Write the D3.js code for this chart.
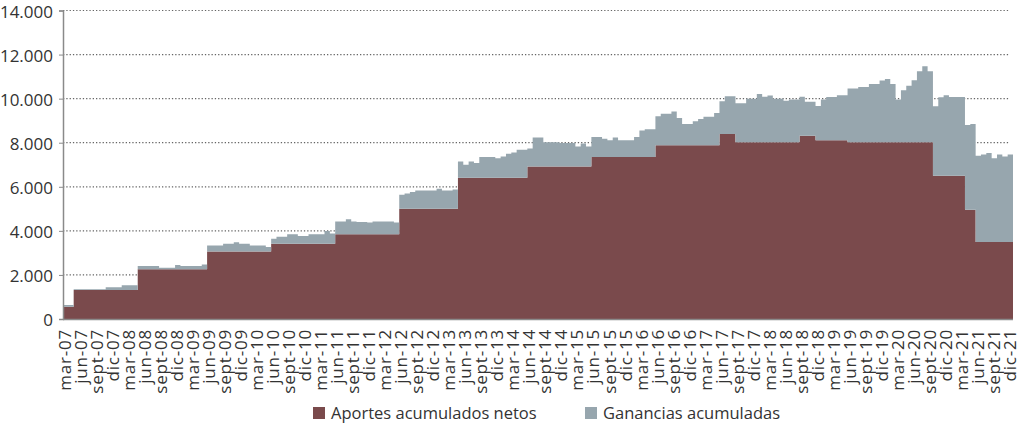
<!DOCTYPE html>
<html><head><meta charset="utf-8">
<script src="https://cdn.jsdelivr.net/npm/d3@7"></script>
<style>body{margin:0;background:#fff}text{font-family:"Open Sans",sans-serif;fill:#333}</style>
</head><body><svg id="c" width="1024" height="430"></svg>
<script>
// Monthly series, first month = mar-07 (index 0) to dic-21 (index 177)
const seriesNames = ["Aportes acumulados netos", "Ganancias acumuladas"];
const aportes = [
  560,560,1320,1320,1320,1320,1320,1320,1320,1320,
  1320,1320,1320,1320,2260,2260,2260,2260,2260,2260,
  2260,2260,2260,2260,2260,2260,2260,3060,3060,3060,
  3060,3060,3060,3060,3060,3060,3060,3060,3060,3420,
  3420,3420,3420,3420,3420,3420,3420,3420,3420,3420,
  3420,3850,3850,3850,3850,3850,3850,3850,3850,3850,
  3850,3850,3850,5000,5000,5000,5000,5000,5000,5000,
  5000,5000,5000,5000,6410,6410,6410,6410,6410,6410,
  6410,6410,6410,6410,6410,6410,6410,6920,6920,6920,
  6920,6920,6920,6920,6920,6920,6920,6920,6920,7350,
  7350,7350,7350,7350,7350,7350,7350,7350,7350,7350,
  7350,7880,7880,7880,7880,7880,7880,7880,7880,7880,
  7880,7880,7880,8390,8390,8390,8020,8020,8020,8020,
  8020,8020,8020,8020,8020,8020,8020,8020,8320,8320,
  8320,8110,8110,8110,8110,8110,8110,8020,8020,8020,
  8020,8020,8020,8020,8020,8020,8020,8020,8020,8020,
  8020,8020,8020,6500,6500,6500,6500,6500,6500,4960,
  4960,3490,3490,3490,3490,3490,3490,3490
];
const ganancias = [
  80,80,30,30,30,30,30,30,120,120,
  120,210,210,210,150,150,150,150,70,70,
  70,190,140,140,140,140,210,270,270,270,
  360,360,420,360,360,270,270,270,210,220,
  310,310,430,430,350,350,430,430,430,570,
  460,570,570,680,570,550,550,530,580,580,
  580,580,530,640,700,760,830,830,830,830,
  910,830,830,880,740,590,740,670,940,940,
  940,880,970,1090,1150,1270,1270,820,1320,1320,
  1100,1100,1100,1070,1070,1070,910,1040,910,910,
  910,830,760,890,760,760,760,910,1200,1260,
  1260,1320,1440,1440,1540,1240,970,970,1090,1200,
  1300,1300,1470,1490,1720,1720,1770,1770,1980,1980,
  2190,2070,2120,1980,1980,1890,1940,1940,1770,1540,
  1540,1560,1850,1970,1970,2040,2040,2440,2440,2510,
  2510,2650,2650,2800,2870,2650,1940,2360,2570,2810,
  3220,3450,3220,3150,3560,3650,3580,3580,3580,3840,
  3890,3920,3970,4040,3810,3970,3890,3970
];
const tickLabels = [
  "mar-07","jun-07","sept-07","dic-07","mar-08","jun-08","sept-08","dic-08",
  "mar-09","jun-09","sept-09","dic-09","mar-10","jun-10","sept-10","dic-10",
  "mar-11","jun-11","sept-11","dic-11","mar-12","jun-12","sept-12","dic-12",
  "mar-13","jun-13","sept-13","dic-13","mar-14","jun-14","sept-14","dic-14",
  "mar-15","jun-15","sept-15","dic-15","mar-16","jun-16","sept-16","dic-16",
  "mar-17","jun-17","sept-17","dic-17","mar-18","jun-18","sept-18","dic-18",
  "mar-19","jun-19","sept-19","dic-19","mar-20","jun-20","sept-20","dic-20",
  "mar-21","jun-21","sept-21","dic-21"
];
const yTicks = [0,2000,4000,6000,8000,10000,12000,14000];
const colors = ["#7a4a4c", "#97a6ae"];

const svg = d3.select("#c");
const n = aportes.length;
const x = d3.scaleLinear().domain([0, n]).range([63, 1013]);
const y = d3.scaleLinear().domain([0, 14000]).range([319, 10.5]);
const loc = d3.formatLocale({decimal: ",", thousands: ".", grouping: [3], currency: ["$", ""]});
const fmt = loc.format(",");

// grid
svg.append("g").selectAll("line").data(yTicks.filter(d => d > 0)).join("line")
  .attr("x1", 63).attr("x2", 1010).attr("y1", d => y(d)).attr("y2", d => y(d))
  .attr("stroke", "#666").attr("stroke-width", 1.2).attr("stroke-dasharray", "1.3,2");

// data rows (extra final row to close the last step)
const rows = d3.range(n + 1).map(i => {
  const k = Math.min(i, n - 1);
  return {i, a: aportes[k], g: ganancias[k]};
});
const stack = d3.stack().keys(["a", "g"])(rows);
const area = d3.area().curve(d3.curveStepAfter)
  .x(d => x(d.data.i)).y0(d => y(d[0])).y1(d => y(d[1]));
svg.append("g").selectAll("path").data(stack).join("path")
  .attr("d", area).attr("fill", (d, i) => colors[i]);

// y axis
const yAxis = d3.axisLeft(y).tickValues(yTicks).tickFormat(fmt).tickSize(4).tickPadding(6);
const gy = svg.append("g").attr("transform", "translate(63,0)").call(yAxis);
gy.select(".domain").attr("stroke", "#8a8a8a").attr("stroke-width", 1.5);
gy.selectAll(".tick line").attr("stroke", "#8a8a8a");
gy.selectAll("text").style("font-size", "17px").attr("fill", "#333").attr("dy", "0.4em")
  .style("font-family", "'Open Sans',sans-serif");

// x baseline
svg.append("line").attr("x1", 63).attr("x2", 1013).attr("y1", 319.5).attr("y2", 319.5)
  .attr("stroke", "#8a8a8a").attr("stroke-width", 1.5);

// x labels
svg.append("g").selectAll("text").data(tickLabels).join("text")
  .attr("transform", (d, i) => `translate(${x(i * 3) + 2},${329}) rotate(-90)`)
  .attr("text-anchor", "end").attr("dy", "0.36em")
  .style("font-size", "17px").style("letter-spacing", "0.8px").text(d => d);

// legend
const lg = svg.append("g");
const lx = [313, 585];
seriesNames.forEach((s, i) => {
  lg.append("rect").attr("x", lx[i]).attr("y", 407).attr("width", 12).attr("height", 12).attr("fill", colors[i]);
  lg.append("text").attr("x", lx[i] + 18).attr("y", 419).style("font-size", "16.5px").text(s);
});
</script></body></html>
